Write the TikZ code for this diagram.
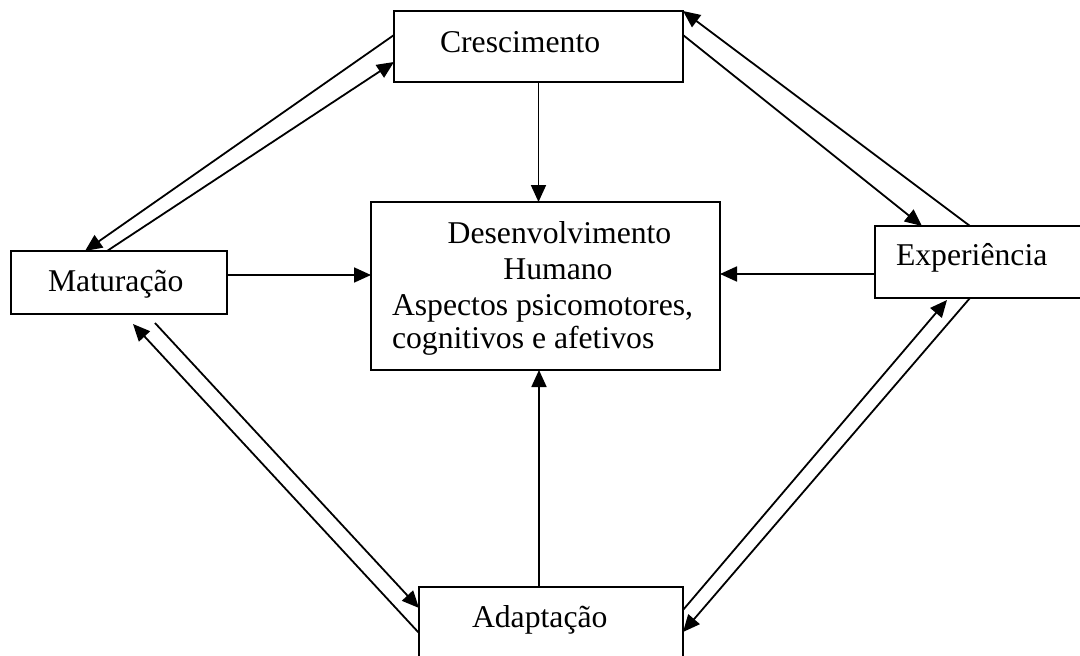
\documentclass[tikz,border=0pt]{standalone}
\usepackage{fontspec}
\setmainfont{Liberation Serif}
\usetikzlibrary{arrows.meta}
\begin{document}
\begin{tikzpicture}[x=1pt,y=-1pt,
  box/.style={draw=black,line width=2.2pt,rectangle,inner sep=0pt,outer sep=0pt},
  txt/.style={font=\fontsize{31.7}{36}\selectfont,inner sep=0pt,outer sep=0pt,anchor=base west},
  ctxt/.style={font=\fontsize{31.7}{36}\selectfont,inner sep=0pt,outer sep=0pt,anchor=base},
  arr/.style={line width=1.8pt,-{Triangle[length=17pt,width=15pt]}}]
\useasboundingbox (0,0) rectangle (1080,656);
\clip (0,0) rectangle (1080,656);
\fill[white] (0,0) rectangle (1080,656);
% boxes
\node[box,minimum width=289pt,minimum height=71pt] (cres) at (538.5,46.5) {};
\node[box,minimum width=349pt,minimum height=168pt] (dh) at (545.5,286) {};
\node[box,minimum width=216pt,minimum height=63pt] (mat) at (119,282.5) {};
\node[box,minimum width=215pt,minimum height=72pt] (exp) at (982.5,262) {};
\node[box,minimum width=264pt,minimum height=93pt] (adap) at (551,633.5) {};
% texts
\node[txt] (crest) at (440,52) {Crescimento};
\node[txt] (matt) at (48,291) {Maturação};
\node[txt] (expt) at (896,265) {Experiência};
\node[txt] (adapt) at (472,627) {Adaptação};
\node[ctxt] (dh1) at (559.5,243) {Desenvolvimento};
\node[ctxt] (dh2) at (558,279) {Humano};
\node[txt] (dh3) at (392,315) {Aspectos psicomotores,};
\node[txt] (dh4) at (392,348) {cognitivos e afetivos};
% straight connectors into the centre box
\draw[arr] (cres.south) -- (cres.south |- dh.north);
\coordinate (ad) at ([xshift=-12pt]adap.north);
\draw[arr] (ad) -- (ad |- dh.south);
\coordinate (mr) at ([yshift=7.5pt]mat.east);
\draw[arr] (mr) -- (mr -| dh.west);
\coordinate (el) at ([yshift=-12pt]exp.west);
\draw[arr] (el) -- (el -| dh.east);
% Crescimento <-> Maturacao
\draw[arr] ([yshift=-24pt]cres.north west) -- ([xshift=74pt]mat.north west);
\draw[arr] ([xshift=96pt]mat.north west) -- ([yshift=-51pt]cres.north west);
% Crescimento <-> Experiencia
\draw[arr] ([xshift=95pt]exp.north west) -- (cres.north east);
\draw[arr] ([yshift=-24pt]cres.north east) -- ([xshift=47pt]exp.north west);
% Maturacao <-> Adaptacao
\draw[arr] ([yshift=-46pt]adap.north west) -- ([xshift=122pt,yshift=-10pt]mat.south west);
\draw[arr] ([xshift=144pt,yshift=-9pt]mat.south west) -- ([yshift=-21pt]adap.north west);
% Experiencia <-> Adaptacao
\draw[arr] ([yshift=-23pt]adap.north east) -- ([xshift=72pt,yshift=-2pt]exp.south west);
\draw[arr] ([xshift=95pt]exp.south west) -- ([yshift=-45pt]adap.north east);
\end{tikzpicture}
\end{document}
